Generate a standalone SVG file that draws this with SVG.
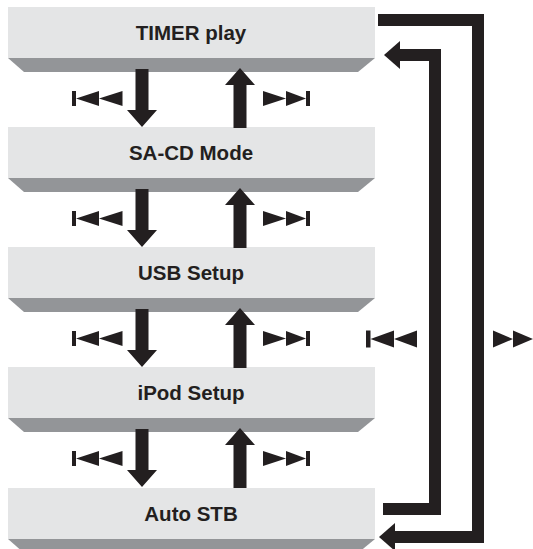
<svg xmlns="http://www.w3.org/2000/svg" xmlns:xlink="http://www.w3.org/1999/xlink" width="533" height="549" viewBox="0 0 533 549">
<style>
.box{fill:#e4e5e6}
.shadow{fill:#939598}
.lbl{font-family:"Liberation Sans",Arial,sans-serif;font-weight:bold;font-size:20.5px;fill:#231f20;text-anchor:middle}
.blk{fill:#231f20}
.line{fill:none;stroke:#231f20;stroke-width:12;stroke-linejoin:miter}
</style>
<defs>
<g id="prev" class="blk"><rect x="0" y="-7.5" width="4" height="15"/><polygon points="4,0 27,-7.5 27,7.5"/><polygon points="27,0 50.5,-7.5 50.5,7.5"/></g>
<g id="next" class="blk"><polygon points="0,-7.5 23,0 0,7.5"/><polygon points="23,-7.5 43,0 23,7.5"/><rect x="43" y="-7.5" width="4" height="15"/></g>
<polygon id="down" class="blk" points="-6.5,0 6.5,0 6.5,41 15,41 0,58 -15,41 -6.5,41"/>
<polygon id="up" class="blk" points="0,0 15,17 6.5,17 6.5,60 -6.5,60 -6.5,17 -15,17"/>
</defs>
<g id="node-timer">
<polygon class="shadow" points="8,58 375,58 358,72 24,72"/>
<rect class="box" x="8" y="7" width="367" height="51"/>
<text class="lbl" x="191" y="40">TIMER play</text>
</g>
<g id="node-sacd">
<polygon class="shadow" points="8,178 375,178 358,192 24,192"/>
<rect class="box" x="8" y="127" width="367" height="51"/>
<text class="lbl" x="191" y="160">SA-CD Mode</text>
</g>
<g id="node-usb">
<polygon class="shadow" points="8,298 375,298 358,312 24,312"/>
<rect class="box" x="8" y="247" width="367" height="51"/>
<text class="lbl" x="191" y="280">USB Setup</text>
</g>
<g id="node-ipod">
<polygon class="shadow" points="8,418 375,418 358,432 24,432"/>
<rect class="box" x="8" y="367" width="367" height="51"/>
<text class="lbl" x="191" y="400">iPod Setup</text>
</g>
<g id="node-autostb">
<polygon class="shadow" points="8,539 375,539 358,553 24,553"/>
<rect class="box" x="8" y="488" width="367" height="51"/>
<text class="lbl" x="191" y="521">Auto STB</text>
</g>
<g id="connectors">
<use xlink:href="#down" href="#down" x="142" y="69"/>
<use xlink:href="#up" href="#up" x="240" y="68"/>
<use xlink:href="#prev" href="#prev" x="72" y="98.5"/>
<use xlink:href="#next" href="#next" x="263" y="98.5"/>
<use xlink:href="#down" href="#down" x="142" y="189"/>
<use xlink:href="#up" href="#up" x="240" y="188"/>
<use xlink:href="#prev" href="#prev" x="72" y="218.5"/>
<use xlink:href="#next" href="#next" x="263" y="218.5"/>
<use xlink:href="#down" href="#down" x="142" y="309"/>
<use xlink:href="#up" href="#up" x="240" y="308"/>
<use xlink:href="#prev" href="#prev" x="72" y="338.5"/>
<use xlink:href="#next" href="#next" x="263" y="338.5"/>
<use xlink:href="#down" href="#down" x="142" y="429"/>
<use xlink:href="#up" href="#up" x="240" y="428"/>
<use xlink:href="#prev" href="#prev" x="72" y="458.5"/>
<use xlink:href="#next" href="#next" x="263" y="458.5"/>
<path class="line" d="M383,509 H435 V55 H398"/>
<polygon class="blk" points="384,55 400,41 400,69"/>
<path class="line" d="M378,20 H478 V537 H393"/>
<polygon class="blk" points="379,537 395,523 395,551"/>
<g class="blk">
<rect x="366" y="330.5" width="4.5" height="17"/><polygon points="370.5,339 394,330.5 394,347.5"/><polygon points="394,339 417,330.5 417,347.5"/>
</g>
<polygon class="blk" points="493,330.5 513,339 493,347.5"/>
<polygon class="blk" points="513,330.5 533,339 513,347.5"/>
</g>
</svg>
